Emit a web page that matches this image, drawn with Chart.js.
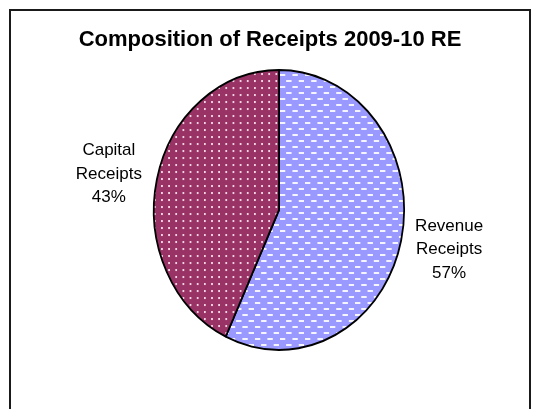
<!DOCTYPE html>
<html>
<head>
<meta charset="utf-8">
<script src="https://cdn.jsdelivr.net/npm/chart.js@4.4.1/dist/chart.umd.min.js"></script>
<style>
    html, body { margin: 0; padding: 0; background: #fff; overflow: hidden; }
</style>
</head>
<body>
<canvas id="receipts_chart" width="536" height="409"></canvas>
<script>
// data
const categories = ['Revenue Receipts', 'Capital Receipts'];
const shares = [57, 43];
const chartTitle = 'Composition of Receipts 2009-10 RE';

// the pie is drawn a little narrower than tall
const pieSquash = 0.894;

// fill patterns
function makePattern(w, h, base, drawMarks) {
    let tile = document.createElement('canvas');
    tile.width = w;
    tile.height = h;
    let tctx = tile.getContext('2d');
    tctx.fillStyle = base;
    tctx.fillRect(0, 0, w, h);
    drawMarks(tctx);
    return tile;
}

const revenueTile = makePattern(14, 12, '#9999ff', function (c) {
    c.fillStyle = 'rgba(255,255,255,0.9)';
    c.fillRect(0, 2, 6, 2);
    c.fillRect(7, 8, 6, 2);
});
const capitalTile = makePattern(8, 7, '#993366', function (c) {
    c.fillStyle = 'rgba(255,230,242,0.9)';
    c.fillRect(3, 3, 2, 2);
});

const canvas = document.getElementById('receipts_chart');
const ctx = canvas.getContext('2d');
const fills = [ctx.createPattern(revenueTile, 'repeat'), ctx.createPattern(capitalTile, 'repeat')];

// frame + title behind the pie
const framePlugin = {
    id: 'framePlugin',
    beforeDraw(chart) {
        const c = chart.ctx;
        c.save();
        c.fillStyle = '#fff';
        c.fillRect(0, 0, chart.width, chart.height);
        c.strokeStyle = '#1a1a1a';
        c.lineWidth = 2;
        c.beginPath();
        c.moveTo(10, chart.height + 5);
        c.lineTo(10, 10);
        c.lineTo(530, 10);
        c.lineTo(530, chart.height + 5);
        c.stroke();
        c.fillStyle = '#000';
        c.font = "bold 22px 'Liberation Sans', Arial, sans-serif";
        c.textAlign = 'center';
        c.textBaseline = 'middle';
        c.fillText(chartTitle, 270, 40);
        c.restore();
    }
};

// squash the pie horizontally, then put the labels beside each slice
const pieLayout = {
    id: 'pieLayout',
    beforeDatasetsDraw(chart) {
        const a = chart.chartArea;
        const cx = (a.left + a.right) / 2;
        const c = chart.ctx;
        c.save();
        c.translate(cx, 0);
        c.scale(pieSquash, 1);
        c.translate(-cx, 0);
    },
    afterDatasetsDraw(chart) {
        const c = chart.ctx;
        c.restore();

        const meta = chart.getDatasetMeta(0);
        const total = shares.reduce((a, b) => a + b, 0);
        c.save();
        c.fillStyle = '#000';
        c.font = "17px 'Liberation Sans', Arial, sans-serif";
        c.textAlign = 'center';
        c.textBaseline = 'middle';
        meta.data.forEach(function (arc, i) {
            const mid = (arc.startAngle + arc.endAngle) / 2;
            const x = arc.x + Math.cos(mid) * (arc.outerRadius + 55) * pieSquash;
            const y = arc.y + Math.sin(mid) * (arc.outerRadius + 33) + 2;
            const lines = categories[i].split(' ');
            lines.push(Math.round(shares[i] / total * 100) + '%');
            const lh = 23.5;
            lines.forEach(function (t, k) {
                c.fillText(t, x, y + (k - (lines.length - 1) / 2) * lh);
            });
        });
        c.restore();
    }
};

new Chart(canvas, {
    type: 'pie',
    data: {
        labels: categories,
        datasets: [{
            data: shares,
            backgroundColor: fills,
            borderColor: '#000',
            borderWidth: 2
        }]
    },
    options: {
        responsive: false,
        animation: false,
        layout: {
            padding: {left: 138, right: 116, top: 69, bottom: 58}
        },
        plugins: {
            legend: {display: false},
            tooltip: {enabled: false},
            title: {display: false}
        }
    },
    plugins: [framePlugin, pieLayout]
});
</script>
</body>
</html>
